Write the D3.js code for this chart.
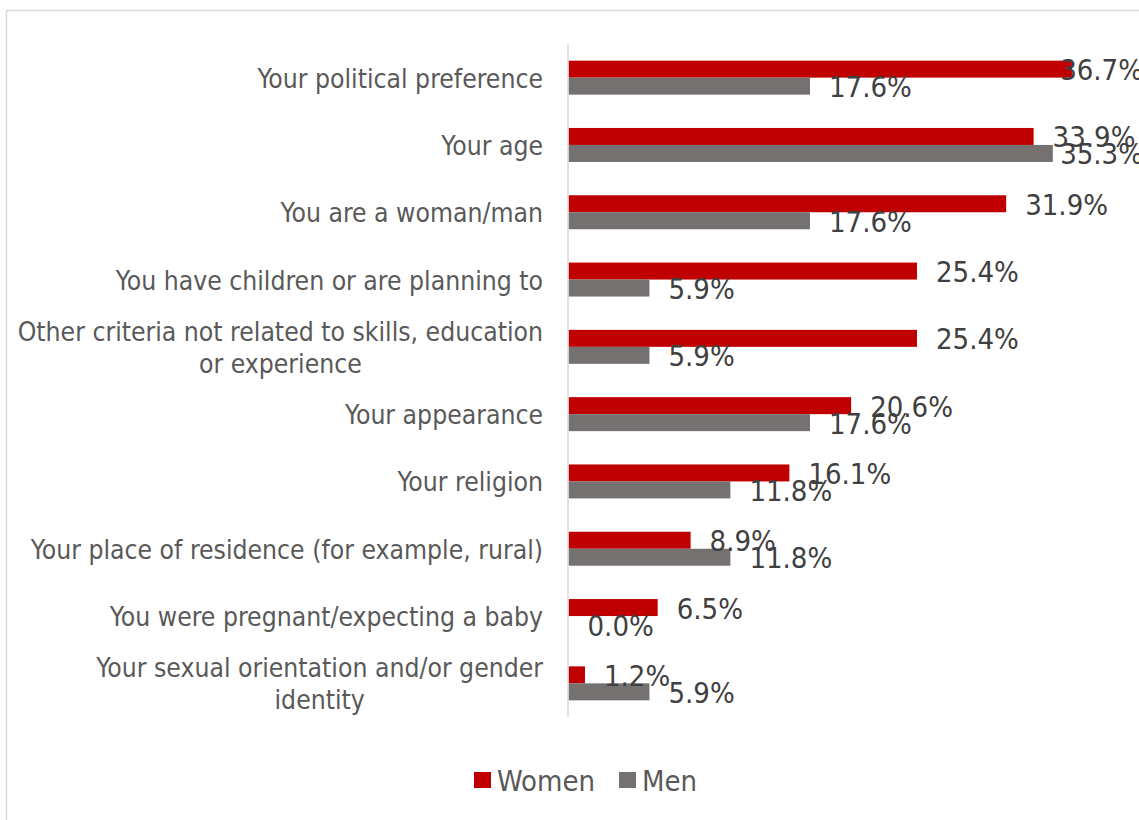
<!DOCTYPE html>
<html>
<head>
<meta charset="utf-8">
<script src="https://cdn.jsdelivr.net/npm/d3@7"></script>
<style>
  html, body { margin: 0; padding: 0; background: #fff; }
  svg { display: block; }
  text { font-family: "DejaVu Sans Condensed", "DejaVu Sans", sans-serif; font-stretch: condensed; }
</style>
</head>
<body>
<svg id="chart" width="1139" height="820"></svg>
<script>
// Survey answers: grounds on which respondents felt discriminated against
const categories = [
  "Your political preference",
  "Your age",
  "You are a woman/man",
  "You have children or are planning to",
  "Other criteria not related to skills, education or experience",
  "Your appearance",
  "Your religion",
  "Your place of residence (for example, rural)",
  "You were pregnant/expecting a baby",
  "Your sexual orientation and/or gender identity"
];
const seriesNames = ["Women", "Men"];
const women = [36.7, 33.9, 31.9, 25.4, 25.4, 20.6, 16.1, 8.9, 6.5, 1.2];
const men   = [17.6, 35.3, 17.6, 5.9, 5.9, 17.6, 11.8, 11.8, 0.0, 5.9];
const xDomain = [0, 40];

const colors = { Women: "#C00000", Men: "#767171" };

const svg = d3.select("#chart");
const W = 1139, H = 820;

// chart frame
svg.append("rect")
  .attr("x", 6.5).attr("y", 10.5)
  .attr("width", W + 20).attr("height", H + 20)
  .attr("fill", "#fff").attr("stroke", "#d9d9d9").attr("stroke-width", 1.5);

const axisX = 568;
const x = d3.scaleLinear().domain(xDomain).range([axisX + 0.5, axisX + 0.5 + 13.72 * 40]);
const y = d3.scaleBand().domain(categories).range([44, 717])
  .paddingInner(0.495).paddingOuter(0.2475);
const ySub = d3.scaleBand().domain(seriesNames).range([0, y.bandwidth()]);

const rows = categories.map((c, i) => ({ category: c, Women: women[i], Men: men[i] }));

// bars
const g = svg.append("g");
seriesNames.forEach(s => {
  g.selectAll("rect." + s)
    .data(rows)
    .join("rect")
    .attr("class", s)
    .attr("x", x(0))
    .attr("y", d => y(d.category) + ySub(s))
    .attr("width", d => x(d[s]) - x(0))
    .attr("height", ySub.bandwidth())
    .attr("fill", colors[s]);
});

// vertical category axis line
svg.append("line")
  .attr("x1", axisX).attr("x2", axisX)
  .attr("y1", 44).attr("y2", 717)
  .attr("stroke", "#d9d9d9").attr("stroke-width", 1.5);

// value labels, kept inside the plot's right edge
const labelSize = 29;
const rightLimit = 1143;
seriesNames.forEach(s => {
  g.selectAll("text.v" + s)
    .data(rows)
    .join("text")
    .attr("class", "v" + s)
    .attr("y", d => y(d.category) + ySub(s) + ySub.bandwidth() / 2 + 1)
    .attr("dominant-baseline", "central")
    .attr("font-size", labelSize)
    .attr("fill", "#404040")
    .text(d => d[s].toFixed(1) + "%")
    .each(function (d) {
      const w = this.getComputedTextLength();
      const px = Math.min(x(d[s]) + 19, rightLimit - w);
      d3.select(this).attr("x", px);
    });
});

// category labels, wrapped and centred within a right-aligned block
const catSize = 26.3;
const catRight = 543;
const maxLabelWidth = 536;
const lineGap = 32;
const measure = svg.append("text").attr("font-size", catSize).attr("opacity", 0);
function textWidth(t) { measure.text(t); return measure.node().getComputedTextLength(); }
function wrap(str) {
  const words = str.split(" ");
  const lines = [];
  let cur = "";
  words.forEach(w => {
    const trial = cur ? cur + " " + w : w;
    if (cur && textWidth(trial) > maxLabelWidth) { lines.push(cur); cur = w; }
    else cur = trial;
  });
  lines.push(cur);
  return lines;
}
categories.forEach(c => {
  const lines = wrap(c);
  const widest = d3.max(lines, textWidth);
  const cx = catRight - widest / 2;
  const cy = y(c) + y.bandwidth() / 2 + 1;
  const t = svg.append("text")
    .attr("font-size", catSize)
    .attr("fill", "#595959")
    .attr("text-anchor", "middle")
    .attr("dominant-baseline", "central");
  lines.forEach((ln, k) => {
    t.append("tspan")
      .attr("x", cx)
      .attr("y", cy + (k - (lines.length - 1) / 2) * lineGap)
      .text(ln);
  });
});
measure.remove();

// legend
const legend = svg.append("g");
const legendItems = [
  { name: "Women", x: 474 },
  { name: "Men", x: 619 }
];
legendItems.forEach(it => {
  legend.append("rect")
    .attr("x", it.x).attr("y", 772)
    .attr("width", 17).attr("height", 16)
    .attr("fill", colors[it.name]);
  legend.append("text")
    .attr("x", it.x + 23).attr("y", 781)
    .attr("dominant-baseline", "central")
    .attr("font-size", 29)
    .attr("fill", "#595959")
    .text(it.name);
});
</script>
</body>
</html>
